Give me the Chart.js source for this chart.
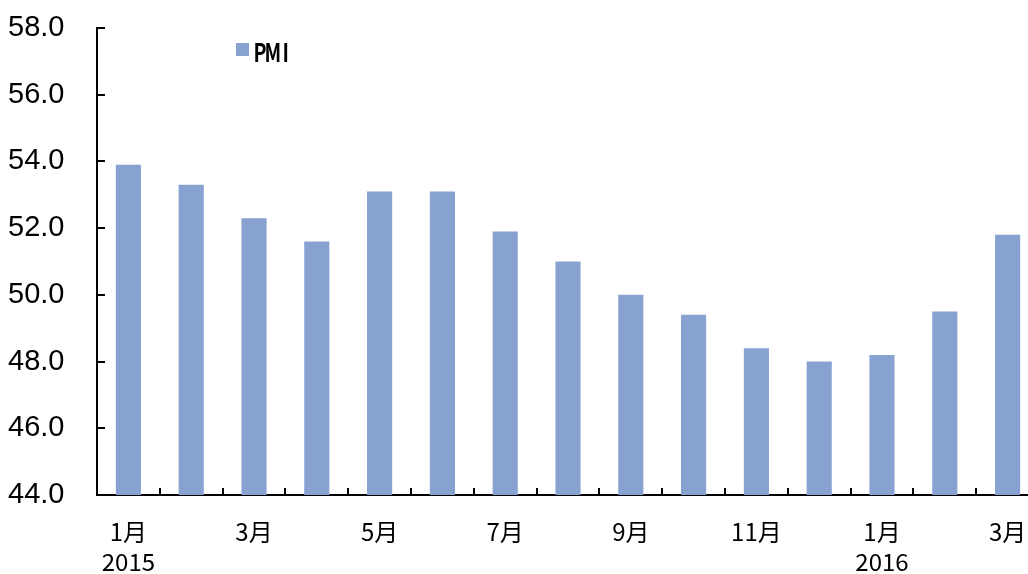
<!DOCTYPE html>
<html>
<head>
<meta charset="utf-8">
<script src="https://cdn.jsdelivr.net/npm/chart.js@4.4.1/dist/chart.umd.min.js"></script>
<style>
  html, body { margin: 0; padding: 0; background: #ffffff; overflow: hidden; }
  #wrap { width: 1028px; height: 574px; position: relative; overflow: hidden; }
  #c { position: absolute; left: 0; top: 0; }
</style>
</head>
<body>
<div id="wrap"><canvas id="c" width="1040" height="574"></canvas></div>
<script>
// Monthly PMI, Jan 2015 – Mar 2016
const months = [
  ['1月', '2015'], '', '3月', '', '5月', '', '7月', '', '9月', '', '11月', '',
  ['1月', '2016'], '', '3月'
];
const pmiValues = [53.9, 53.3, 52.3, 51.6, 53.1, 53.1, 51.9, 51.0, 50.0, 49.4, 48.4, 48.0, 48.2, 49.5, 51.8];
const yTicks = [44, 46, 48, 50, 52, 54, 56, 58];

const barColor = '#87a2d1';

// Inward tick marks on both axes, placed from the scales themselves
const innerTicks = {
  id: 'innerTicks',
  afterDraw(chart) {
    const ctx = chart.ctx;
    const x = chart.scales.x, y = chart.scales.y;
    const area = chart.chartArea;
    ctx.save();
    ctx.strokeStyle = '#000';
    ctx.lineWidth = 2;
    ctx.beginPath();
    yTicks.forEach(v => {
      const py = Math.round(y.getPixelForValue(v));
      ctx.moveTo(area.left, py);
      ctx.lineTo(area.left + 8, py);
    });
    const n = chart.data.labels.length;
    for (let i = 0; i < n - 1; i++) {
      const px = Math.round((x.getPixelForValue(i) + x.getPixelForValue(i + 1)) / 2);
      ctx.moveTo(px, area.bottom);
      ctx.lineTo(px, area.bottom - 7);
    }
    ctx.stroke();
    ctx.restore();
  }
};

// Legend entry drawn inside the plot area, fixed-pitch glyphs
const innerLegend = {
  id: 'innerLegend',
  afterDraw(chart) {
    const ctx = chart.ctx;
    const ds = chart.data.datasets[0];
    ctx.save();
    ctx.fillStyle = ds.backgroundColor;
    ctx.fillRect(236, 43, 13, 13);
    ctx.fillStyle = '#000';
    ctx.font = '700 25px "Noto Sans CJK SC"';
    ctx.textBaseline = 'alphabetic';
    ctx.textAlign = 'center';
    Array.from(ds.label).forEach((ch, i) => {
      ctx.save();
      ctx.translate(260 + i * 12.8, 62);
      ctx.scale(0.78, 1);
      ctx.fillText(ch, 0, 0);
      ctx.restore();
    });
    ctx.restore();
  }
};

new Chart(document.getElementById('c'), {
  type: 'bar',
  data: {
    labels: months,
    datasets: [{
      label: 'PMI',
      data: pmiValues,
      backgroundColor: barColor,
      borderWidth: 0,
      barPercentage: 0.40,
      categoryPercentage: 1.0
    }]
  },
  options: {
    responsive: false,
    animation: false,
    layout: { padding: { top: 28, right: 1, left: 8, bottom: 0 } },
    plugins: { legend: { display: false }, tooltip: { enabled: false } },
    scales: {
      x: {
        offset: true,
        grid: { display: false, drawTicks: true, tickLength: 22 },
        border: { display: true, color: '#000', width: 2 },
        ticks: {
          color: '#000',
          font: { family: '"Noto Sans CJK SC"', size: 24, lineHeight: 1.25 },
          padding: 0,
          autoSkip: false,
          maxRotation: 0
        },
        afterFit(s) { s.height = 79; }
      },
      y: {
        min: 44,
        max: 58,
        grid: { display: false, drawTicks: false },
        border: { display: true, color: '#000', width: 2 },
        ticks: {
          stepSize: 2,
          color: '#000',
          padding: 0,
          crossAlign: 'far',
          font: { family: '"Liberation Sans", Arial, sans-serif', size: 29 },
          callback: v => Number(v).toFixed(1)
        },
        afterFit(s) { s.width = 89; }
      }
    }
  },
  plugins: [innerTicks, innerLegend]
});
</script>
</body>
</html>
